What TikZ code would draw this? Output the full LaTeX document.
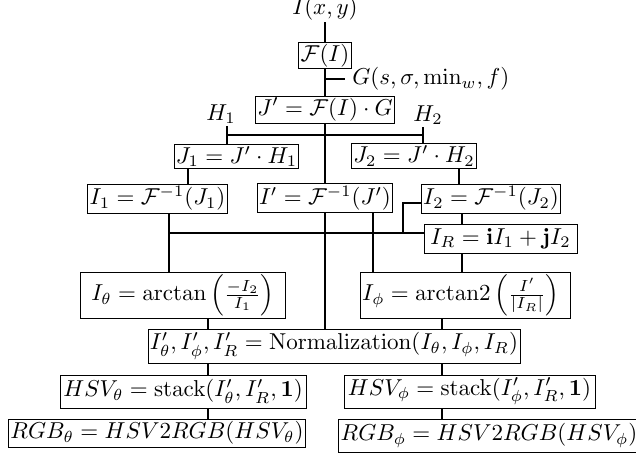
\documentclass[tikz,border=0pt]{standalone}
\usepackage{amsmath}
\usepackage{amssymb}
\begin{document}
\begin{tikzpicture}[x=0.4348pt,y=-0.4348pt,
  bx/.style n args={2}{draw, inner sep=0.8pt, minimum width=#1*0.4348pt, minimum height=#2*0.4348pt},
  lbl/.style={inner sep=0.8pt},
  conn/.style={draw, line width=0.45pt}]
\useasboundingbox (0,0) rectangle (636,459);
% nodes
\node[lbl,anchor=base] (Ixy) at (325,14) {$I(x,y)$};
\node[bx={50}{25}] (FI) at (325,55.5) {$\mathcal{F}(I)$};
\node[lbl,anchor=west,inner sep=3pt] (G) at (345,79) {$G(s,\sigma,\min_w,f)$};
\node[bx={136}{27}] (Jp) at (325,109.5) {$J' = \mathcal{F}(I)\cdot G$};
\node[lbl,anchor=south] (H1) at (221,126) {$H_1$};
\node[lbl,anchor=south] (H2) at (428,127) {$H_2$};
\node[bx={119}{23}] (J1) at (236.5,156.5) {$J_1 = J'\cdot H_1$};
\node[bx={120}{22}] (J2) at (414,156) {$J_2 = J'\cdot H_2$};
\node[bx={131}{29}] (I1) at (157.5,198.5) {$I_1 = \mathcal{F}^{-1}(J_1)$};
\node[bx={130}{28}] (Ip) at (325,198) {$I' = \mathcal{F}^{-1}(J')$};
\node[bx={136}{29}] (I2) at (491,198.5) {$I_2 = \mathcal{F}^{-1}(J_2)$};
\node[bx={153}{29}] (IR) at (500.5,238.5) {$I_R = \mathbf{i}I_1 + \mathbf{j}I_2$};
\node[bx={205}{46}] (Ith) at (183,295) {$I_\theta = \arctan\left(\frac{-I_2}{I_1}\right)$};
\node[bx={205}{46}] (Iph) at (465.5,295) {$I_\phi = \mathrm{arctan2}\,\Bigl(\frac{I'}{|I_R|}\Bigr)$\kern4pt};
\node[bx={372}{34}] (Nm) at (334,346) {$I'_\theta, I'_\phi, I'_R = \mathrm{Normalization}(I_\theta, I_\phi, I_R)$};
\node[bx={246}{33}] (Ht) at (183,391.5) {$HSV_\theta = \mathrm{stack}(I'_\theta, I'_R, \mathbf{1})$};
\node[bx={251}{33}] (Hp) at (469.5,391.5) {$HSV_\phi = \mathrm{stack}(I'_\phi, I'_R, \mathbf{1})$};
\node[bx={296}{28}] (Rt) at (157,433) {$RGB_\theta = HSV2RGB(HSV_\theta)$};
\node[bx={290}{33}] (Rp) at (489,435.5) {$RGB_\phi = HSV2RGB(HSV_\phi)$};
% helper coordinates
\coordinate (h1) at (227,135);
\coordinate (h2) at (423,135);
\coordinate (c188) at (188,0);
\coordinate (c459) at (459,0);
\coordinate (c462) at (462,0);
\coordinate (c373) at (373,0);
\coordinate (c208) at (208,0);
\coordinate (c442) at (442,0);
\coordinate (hy) at (169,233);
\coordinate (k) at (403,203);
% connectors
\path[conn] (Ixy) -- (FI);
\path[conn] (FI) -- (Jp);
\path[conn] (FI.south |- G.west) -- (G.west);
\path[conn] (Jp) -- (Ip);
\path[conn] (h1 |- H1.south) -- (h1 |- J1.north);
\path[conn] (h2 |- H2.south) -- (h2 |- J2.north);
\path[conn] (h1) -- (h2);
\path[conn] (J1.south -| c188) -- (I1.north -| c188);
\path[conn] (J2.south -| c459) -- (I2.north -| c459);
\path[conn] (I2.south -| c462) -- (IR.north -| c462);
\path[conn] (I1.south -| hy) -- (Ith.north -| hy);
\path[conn] (hy) -- (hy -| IR.west);
\path[conn] (I2.west |- k) -- (k) -- (k |- hy);
\path[conn] (Ip.south) -- (Ip.south |- Nm.north);
\path[conn] (Ip.south -| c373) -- (Iph.north -| c373);
\path[conn] (IR.south -| c462) -- (Iph.north -| c462);
\path[conn] (Ith.south -| c208) -- (Nm.north -| c208);
\path[conn] (Iph.south -| c442) -- (Nm.north -| c442);
\path[conn] (Nm.south -| c208) -- (Ht.north -| c208);
\path[conn] (Nm.south -| c442) -- (Hp.north -| c442);
\path[conn] (Ht.south -| c208) -- (Rt.north -| c208);
\path[conn] (Hp.south -| c442) -- (Rp.north -| c442);
\end{tikzpicture}
\end{document}
